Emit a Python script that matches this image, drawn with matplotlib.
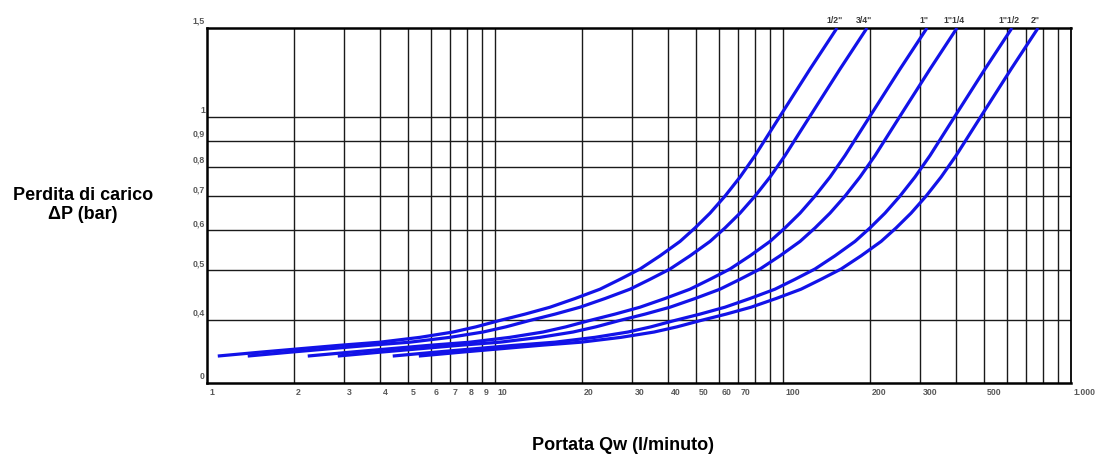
import matplotlib
matplotlib.use("Agg")
import matplotlib.pyplot as plt
from matplotlib.transforms import ScaledTranslation, blended_transform_factory

# ---------------- data ----------------
sizes = ['1/2"', '3/4"', '1"', '1"1/4', '1"1/2', '2"']

# pressure-drop levels (bar) at which the flow of each curve was read
dp_levels = [0.339, 0.345, 0.350, 0.356, 0.361, 0.369, 0.378, 0.387, 0.398, 0.410, 0.423,
             0.440, 0.459, 0.480, 0.503, 0.534, 0.570, 0.606, 0.648, 0.700, 0.763, 0.841,
             0.936, 1.020, 1.245, 1.5]

# flow Qw (l/minute) read for each pipe size at the levels above
q_1_2 = [1.09, 1.53, 2.05, 2.90, 3.99, 5.49, 7.15, 8.59, 10.33, 12.72, 15.52, 18.96, 23.15,
         27.16, 31.88, 37.41, 43.9, 49.5, 55.8, 62.9, 70.9, 79.95, 90.1, 99.2, 124.1, 154.0]
q_3_4 = [1.385, 1.945, 2.606, 3.686, 5.071, 6.978, 9.088, 10.92, 13.13, 16.17, 19.73, 24.10,
         29.42, 34.52, 40.52, 47.55, 55.80, 62.91, 70.92, 79.95, 90.11, 101.6, 114.5, 126.1,
         157.7, 195.7]
q_1 = [2.238, 3.141, 4.209, 5.954, 8.191, 11.27, 14.68, 17.64, 21.21, 26.11, 31.86, 38.92,
       47.53, 55.76, 65.45, 76.80, 90.13, 101.6, 114.6, 129.1, 145.6, 164.1, 185.0, 203.7,
       254.8, 316.2]
q_1_1_4 = [2.845, 3.993, 5.351, 7.569, 10.41, 14.33, 18.66, 22.42, 26.96, 33.20, 40.51, 49.49,
           60.42, 70.89, 83.21, 97.64, 114.6, 129.2, 145.6, 164.2, 185.0, 208.7, 235.2, 258.9,
           323.9, 401.9]
q_1_1_2 = [4.415, 6.197, 8.303, 11.75, 16.16, 22.23, 28.96, 34.79, 41.84, 51.52, 62.86, 76.79,
           93.76, 110.0, 129.1, 151.5, 177.8, 200.5, 226.0, 254.7, 287.1, 323.8, 364.9, 401.8,
           502.6, 623.7]
q_2 = [5.439, 7.635, 10.23, 14.47, 19.91, 27.40, 35.68, 42.86, 51.55, 63.47, 77.44, 94.61,
       115.5, 135.5, 159.1, 186.7, 219.1, 247.0, 278.4, 313.9, 353.8, 398.9, 449.6, 495.0,
       619.3, 768.5]
flows = [q_1_2, q_3_4, q_1, q_1_1_4, q_1_1_2, q_2]

x_grid = [2, 3, 4, 5, 6, 7, 8, 9, 10, 20, 30, 40, 50, 60, 70, 80, 90,
          100, 200, 300, 400, 500, 600, 700, 800, 900]
x_tick_vals = [1, 2, 3, 4, 5, 6, 7, 8, 9, 10, 20, 30, 40, 50, 60, 70, 100, 200, 300, 500, 1000]
x_tick_labels = ['1', '2', '3', '4', '5', '6', '7', '8', '9', '10', '20', '30', '40', '50',
                 '60', '70', '100', '200', '300', '500', '1.000']

y_grid = [0.4, 0.5, 0.6, 0.7, 0.8, 0.9, 1.0]
y_tick_vals = [0.3, 0.4, 0.5, 0.6, 0.7, 0.8, 0.9, 1.0, 1.5]
y_tick_labels = ['0', '0,4', '0,5', '0,6', '0,7', '0,8', '0,9', '1', '1,5']

x_title = 'Portata Qw (l/minuto)'
y_title = 'Perdita di carico\nΔP (bar)'

# ---------------- figure ----------------
plt.rcParams['font.family'] = ['Liberation Sans', 'DejaVu Sans']

fig = plt.figure(figsize=(10.99, 4.55), dpi=100)
ax = fig.add_axes([207 / 1099, 72 / 455, 864 / 1099, 355 / 455])
ax.set_xscale('log')
ax.set_yscale('log')
ax.set_xlim(1, 1000)
ax.set_ylim(0.3, 1.5)

ax.set_xticks([])
ax.set_yticks([])
ax.minorticks_off()
ax.tick_params(which='both', length=0, labelbottom=False, labelleft=False)

for xv in x_grid:
    ax.axvline(xv, color='#1a1a1a', lw=1.0, zorder=1)
for yv in y_grid:
    ax.axhline(yv, color='#1a1a1a', lw=1.0, zorder=1)

for sp in ax.spines.values():
    sp.set_linewidth(1.8)
    sp.set_color('black')
ax.spines['right'].set_linewidth(1.3)

for q in flows:
    ax.plot(q, dp_levels, color='#1212e8', lw=2.3, solid_capstyle='butt',
            solid_joinstyle='round', zorder=3)

# curve labels at top of each curve
for name, q in zip(sizes, flows):
    ax.text(q[-1], dp_levels[-1], name, ha='center', va='bottom', fontsize=6.3,
            fontweight='bold', color='#3a3a3a', clip_on=False,
            transform=ax.transData + ScaledTranslation(-2 / 72, 2.5 / 72, fig.dpi_scale_trans))

# x tick labels
tx = blended_transform_factory(ax.transData, ax.transAxes)
for xv, lab in zip(x_tick_vals, x_tick_labels):
    ax.text(xv, 0, lab, ha='left', va='top', fontsize=6.3, fontweight='bold', color='#5a5a5a',
            clip_on=False,
            transform=tx + ScaledTranslation(1.5 / 72, -3.5 / 72, fig.dpi_scale_trans))

# y tick labels
ty = blended_transform_factory(ax.transAxes, ax.transData)
for yv, lab in zip(y_tick_vals, y_tick_labels):
    ax.text(0, yv, lab, ha='right', va='bottom', fontsize=6.3, fontweight='bold', color='#5a5a5a',
            clip_on=False,
            transform=ty + ScaledTranslation(-1.5 / 72, 1.5 / 72, fig.dpi_scale_trans))

fig.text(83 / 1099, 1 - 205 / 455, y_title, ha='center', va='center', fontsize=13,
         fontweight='bold', color='black', linespacing=1.15)
fig.text(623 / 1099, 1 - 445 / 455, x_title, ha='center', va='center', fontsize=13,
         fontweight='bold', color='black')

fig.savefig('out.png', dpi=100)
